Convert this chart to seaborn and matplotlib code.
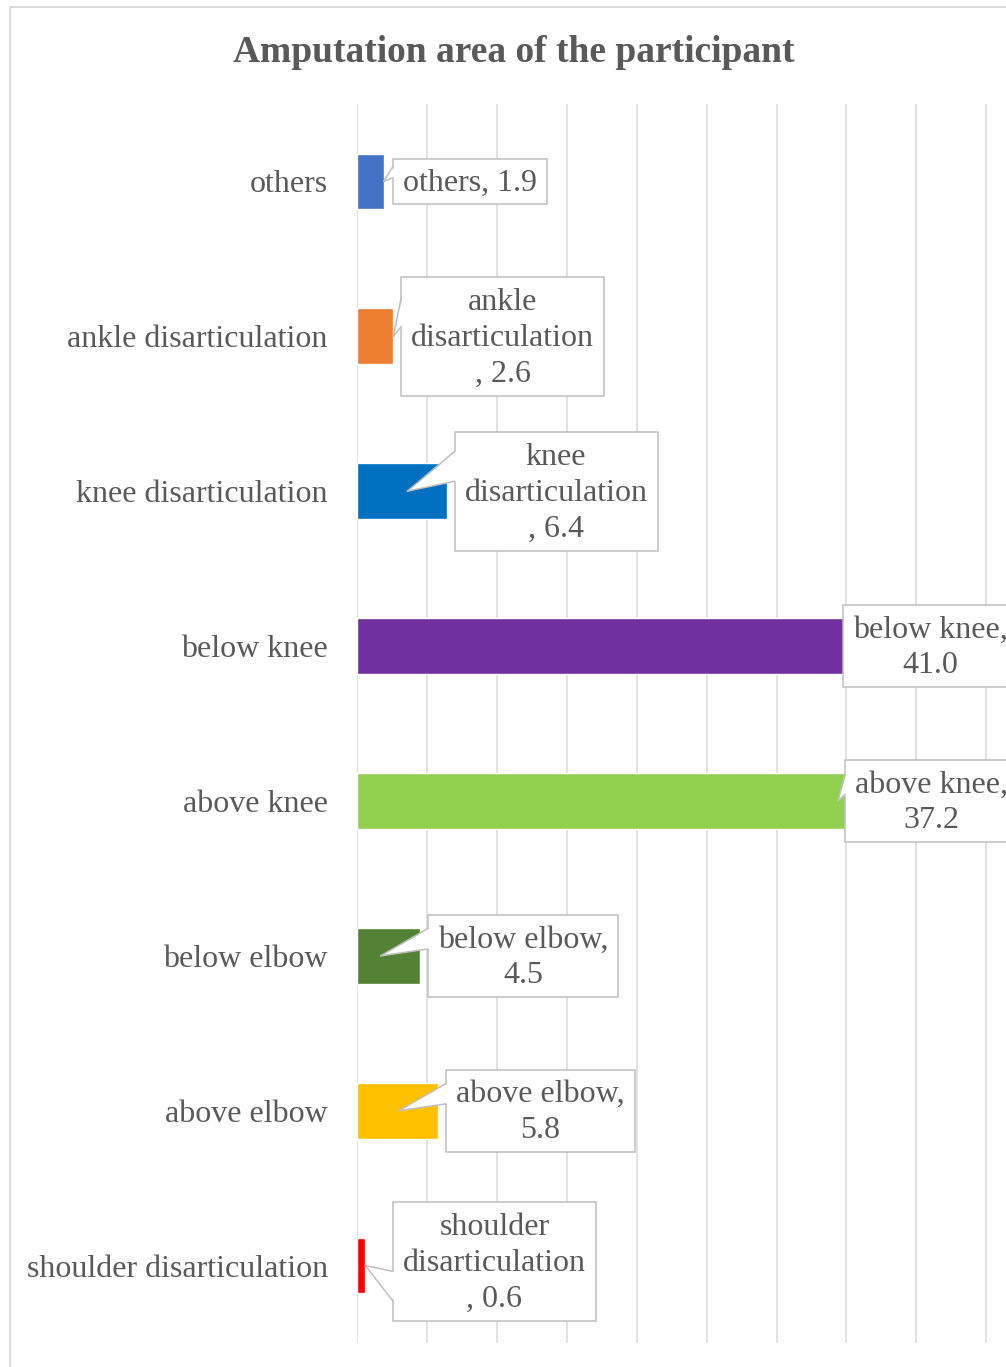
import numpy as np
import pandas as pd
import matplotlib
matplotlib.use("Agg")
import matplotlib.pyplot as plt
from matplotlib.patches import Rectangle, Polygon
from matplotlib.lines import Line2D
import seaborn as sns

# ---- data -------------------------------------------------------------
categories = ["others", "ankle disarticulation", "knee disarticulation",
              "below knee", "above knee", "below elbow", "above elbow",
              "shoulder disarticulation"]
percentages = [1.9, 2.6, 6.4, 41.0, 37.2, 4.5, 5.8, 0.6]
bar_colors = ["#4472C4", "#ED7D31", "#0070C0", "#7030A0",
              "#92D050", "#548235", "#FFC000", "#FF0000"]
chart_title = "Amputation area of the participant"

# ---- style ------------------------------------------------------------
sns.set_theme(style="white")
plt.rcParams["font.family"] = ["Liberation Serif", "DejaVu Serif"]
TEXT = "#595959"
GRID = "#d9d9d9"
CALLOUT = "#bfbfbf"

W, H, DPI = 1006, 1367, 100
fig = plt.figure(figsize=(W / DPI, H / DPI), dpi=DPI)
fig.patch.set_facecolor("white")

# plot area in pixels: x 357..987, y 104..1343 (image coordinates)
PX_L, PX_R, PX_T, PX_B = 357, 987, 104, 1343
CHART_R = 1018
ax = fig.add_axes([PX_L / W, (H - PX_B) / H, (PX_R - PX_L) / W, (PX_B - PX_T) / H])

df = pd.DataFrame({"area": categories, "pct": percentages})
sns.barplot(data=df, y="area", x="pct", hue="area", palette=bar_colors,
            orient="h", width=0.36, saturation=1, legend=False, ax=ax)

ax.set_xlim(0, 45.05)
ax.set_xticks(np.arange(0, 46, 5))
ax.tick_params(axis="x", labelbottom=False, length=0)
ax.tick_params(axis="y", length=0, pad=21, labelsize=23, labelcolor=TEXT)
ax.grid(axis="x", color=GRID, lw=1.1)
ax.grid(axis="y", visible=False)
ax.set_axisbelow(True)
ax.set_xlabel("")
ax.set_ylabel("")
for s in ax.spines.values():
    s.set_visible(False)

# outer chart frame (runs off the right and bottom edges)
fig.add_artist(Rectangle((10 / W, -0.02), (CHART_R - 10) / W, 1.02 - 7 / H,
                         transform=fig.transFigure, fc="none", ec=GRID,
                         lw=1.4, zorder=1))

fig.text(513.5 / W, 1 - 52 / H, chart_title, ha="center", va="center",
         fontsize=27, fontweight="bold", color=TEXT)


def label_text(cat, val):
    s = f"{cat}, {val:.1f}"
    if len(s) <= 12:
        return s
    if len(cat) + 1 <= 12:
        return f"{cat},\n{val:.1f}"
    return cat.replace(" ", "\n") + f"\n, {val:.1f}"


def fig_xy(x, y_img):
    return (x / W, 1 - y_img / H)


fig.canvas.draw()
renderer = fig.canvas.get_renderer()
x0_px = ax.transData.transform((0, 0))[0]

for i, (cat, val) in enumerate(zip(categories, percentages)):
    s = label_text(cat, val)
    n_lines = s.count("\n") + 1
    t = fig.text(0, 0, s, ha="center", va="center", multialignment="center",
                 fontsize=23, color=TEXT, linespacing=1.31, zorder=7)
    w = t.get_window_extent(renderer).width
    box_w = w + 20
    box_h = n_lines * 37 + 8

    end_x, end_y = ax.transData.transform((val, i))
    bar_cy = H - end_y
    box_l = max(end_x + 8, x0_px + 36)
    if box_l + box_w > CHART_R:
        box_l = CHART_R - box_w
    cy = min(bar_cy, PX_B - 22 - box_h / 2)
    top = cy - box_h / 2

    t.set_position(fig_xy(box_l + box_w / 2, cy + 2))

    fig.add_artist(Rectangle(fig_xy(box_l, top + box_h), box_w / W, box_h / H,
                             transform=fig.transFigure, fc="white",
                             ec=CALLOUT, lw=1.1, zorder=5))

    # callout pointer towards the bar
    tip_v = val - 2.8 if val > 4 else val
    tx, ty = ax.transData.transform((tip_v, i))
    ty = H - ty
    if tx >= box_l - 2:
        continue
    fr = (2 / 12, 5 / 12) if ty <= cy + 0.5 else (7 / 12, 10 / 12)
    b1, b2 = top + fr[0] * box_h, top + fr[1] * box_h
    fig.add_artist(Polygon([fig_xy(tx, ty), fig_xy(box_l + 1.5, b1),
                            fig_xy(box_l + 1.5, b2)], closed=True,
                           transform=fig.transFigure, fc="white", ec="none",
                           zorder=6))
    for b in (b1, b2):
        (xa, ya), (xb, yb) = fig_xy(tx, ty), fig_xy(box_l, b)
        fig.add_artist(Line2D([xa, xb], [ya, yb], transform=fig.transFigure,
                              color=CALLOUT, lw=1.1, zorder=6))

fig.savefig("out.png", dpi=DPI, facecolor="white")
